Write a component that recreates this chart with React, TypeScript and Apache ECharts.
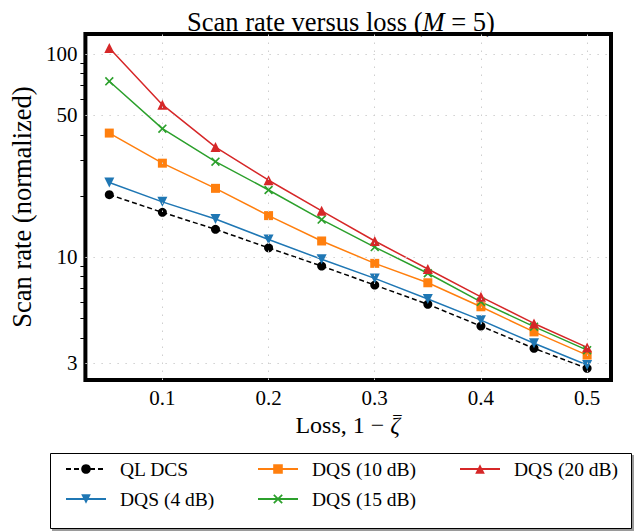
import React, { useEffect, useRef } from "react";
import * as echarts from "echarts";

const lossValues = [0.05, 0.1, 0.15, 0.2, 0.25, 0.3, 0.35, 0.4, 0.45, 0.5];
const qlDcs = [20.3, 16.6, 13.7, 11.1, 9.03, 7.28, 5.85, 4.57, 3.55, 2.83];
const dqs4 = [23.3, 18.7, 15.4, 12.2, 9.75, 7.85, 6.21, 4.89, 3.76, 2.94];
const dqs10 = [40.8, 29.0, 21.8, 16.0, 12.0, 9.31, 7.47, 5.69, 4.28, 3.29];
const dqs15 = [73.4, 42.9, 29.5, 21.4, 15.3, 11.2, 8.32, 6.02, 4.54, 3.48];
const dqs20 = [107, 56.3, 34.8, 23.9, 16.9, 12.0, 8.73, 6.37, 4.71, 3.59];

const xTickLabels = [0.1, 0.2, 0.3, 0.4, 0.5];
const yTickLabels = [3, 10, 50, 100];
const yMinorTicks = [4, 5, 6, 7, 8, 9, 20, 30, 40, 60, 70, 80, 90];

const FONT = "Liberation Serif";
const CROSS =
  "path://M0,1.3L1.3,0L5,3.7L8.7,0L10,1.3L6.3,5L10,8.7L8.7,10L5,6.3L1.3,10L0,8.7L3.7,5Z";

const pairs = (ys: number[]) => lossValues.map((x, i) => [x, ys[i]]);

export default function App() {
  const ref = useRef<HTMLDivElement>(null);
  useEffect(() => {
    if (!ref.current) return;
    const chart = echarts.init(ref.current, undefined, { renderer: "svg" });
    const gridStyle = { color: "#cfcfcf", type: [1.5, 6.5] as any, width: 1 };
    const mk = (name: string, ys: number[], color: string, symbol: string, size: number, extra: any = {}) => ({
      name,
      type: "line",
      data: pairs(ys),
      symbol,
      symbolSize: size,
      showSymbol: true,
      lineStyle: { color, width: 1.5, ...(extra.lineType ? { type: extra.lineType } : {}) },
      itemStyle: { color, opacity: 1 },
      symbolRotate: extra.rotate || 0,
      emphasis: { disabled: true },
      ...(extra.markLine ? { markLine: extra.markLine } : {}),
    });
    const legendBase = {
      orient: "vertical",
      top: 459,
      padding: 0,
      itemWidth: 40,
      itemHeight: 12,
      itemGap: 10,
      selectedMode: false,
      textStyle: { fontFamily: FONT, fontSize: 19.5, color: "#000", padding: [0, 0, 0, 9] },
    };
    chart.setOption({
      animation: false,
      title: {
        text: "{a|Scan rate versus loss (}{i|M}{a| = 5)}",
        left: 336,
        top: 3,
        textAlign: "center",
        textStyle: {
          fontWeight: "normal",
          rich: {
            a: { fontFamily: FONT, fontSize: 26.5, fontWeight: "normal", color: "#000" },
            i: { fontFamily: FONT, fontSize: 26.5, fontWeight: "normal", fontStyle: "italic", color: "#000" },
          },
        },
      },
      grid: {
        left: 80,
        right: 24,
        top: 34,
        bottom: 151,
        show: true,
        borderColor: "#000",
        borderWidth: 4,
        backgroundColor: "#fff",
      },
      xAxis: {
        type: "value",
        min: 0.0275,
        max: 0.5225,
        name: "{a|Loss, 1 \u2212 }{i|\u03B6}{m|\u203E}",
        nameLocation: "middle",
        nameGap: 29,
        nameTextStyle: {
          rich: {
            a: { fontFamily: FONT, fontSize: 24, color: "#000" },
            i: { fontFamily: FONT, fontSize: 24, fontStyle: "italic", color: "#000" },
            m: { fontFamily: FONT, fontSize: 22, color: "#000", width: 1, align: "right" },
          },
        },
        axisLine: { show: false },
        axisTick: { show: false },
        splitLine: { show: false },
        axisLabel: {
          customValues: xTickLabels,
          formatter: (v: number) => String(Math.round(v * 10) / 10),
          fontFamily: FONT,
          fontSize: 21,
          color: "#000",
          margin: 7,
        },
      },
      yAxis: {
        type: "log",
        logBase: 10,
        min: 2.48,
        max: 125.5,
        name: "Scan rate (normalized)",
        nameLocation: "middle",
        nameGap: 47,
        nameTextStyle: { fontFamily: FONT, fontSize: 26.5, color: "#000" },
        axisLine: { show: false },
        splitLine: { show: false },
        minorTick: { show: false },
        axisTick: {
          show: true,
          customValues: yMinorTicks,
          length: 5,
          lineStyle: { color: "#000", width: 1 },
        },
        axisLabel: {
          customValues: yTickLabels,
          formatter: (v: number) => String(Math.round(v)),
          fontFamily: FONT,
          fontSize: 21,
          color: "#000",
          margin: 8,
        },
      },
      legend: [
        { ...legendBase, left: 65, data: ["QL DCS", "DQS (4 dB)"] },
        { ...legendBase, left: 257, data: ["DQS (10 dB)", "DQS (15 dB)"] },
        { ...legendBase, left: 459, data: ["DQS (20 dB)"] },
      ],
      graphic: [
        {
          type: "rect",
          shape: { x: 52, y: 455, width: 582, height: 76 },
          style: { fill: "#9a9a9a" },
          z: 0,
        },
        {
          type: "rect",
          shape: { x: 50.5, y: 453.5, width: 581, height: 75 },
          style: { fill: "#fff", stroke: "#000", lineWidth: 1 },
          z: 1,
        },
      ],
      series: [
        mk("QL DCS", qlDcs, "#000000", "circle", 9, {
          lineType: [5, 3],
          markLine: {
            silent: true,
            symbol: ["none", "none"],
            label: { show: false },
            lineStyle: gridStyle,
            emphasis: { disabled: true },
            data: [
              ...xTickLabels.map((v) => ({ xAxis: v })),
              ...yTickLabels.map((v) => ({ yAxis: v })),
            ],
          },
        }),
        mk("DQS (4 dB)", dqs4, "#1f77b4", "triangle", 10, { rotate: 180 }),
        mk("DQS (10 dB)", dqs10, "#ff7f0e", "rect", 9),
        mk("DQS (15 dB)", dqs15, "#2ca02c", CROSS, 9),
        mk("DQS (20 dB)", dqs20, "#d62728", "triangle", 10),
      ],
    });
    return () => chart.dispose();
  }, []);
  return (
    <div
      ref={ref}
      style={{ position: "fixed", left: 0, top: 0, width: 635, height: 531, background: "#fff" }}
    />
  );
}
